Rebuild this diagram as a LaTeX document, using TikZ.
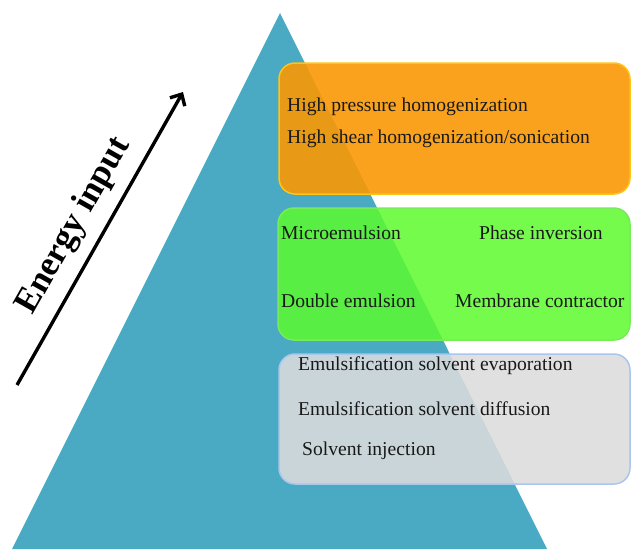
\documentclass[tikz,border=0pt]{standalone}
\usepackage{fontspec}
\setmainfont{Liberation Serif}
\usetikzlibrary{arrows.meta}
\definecolor{teal}{RGB}{74,170,196}
\definecolor{orng}{RGB}{250,152,4}
\definecolor{orngline}{RGB}{255,196,20}
\definecolor{grn}{RGB}{92,250,45}
\definecolor{grnline}{RGB}{120,235,90}
\definecolor{gry}{RGB}{220,220,220}
\definecolor{gryline}{RGB}{170,198,236}
\tikzset{
  box/.style={rounded corners=16pt, line width=1.5pt},
  lbl/.style={anchor=west, inner sep=0pt, font=\fontsize{19.6}{22}\selectfont, text=black!90},
}
\begin{document}
\begin{tikzpicture}[x=1pt,y=-1pt]
\useasboundingbox (0,0) rectangle (632,549);
\fill[teal] (280,13) -- (547,549) -- (12,549) -- cycle;
\draw[box, fill=orng, fill opacity=0.9, draw=orngline] (279,63) rectangle (630,194);
\draw[box, fill=grn, fill opacity=0.85, draw=grnline] (278,208) rectangle (630,340);
\draw[box, fill=gry, fill opacity=0.88, draw=gryline] (279,354) rectangle (630,484);
\node[lbl] (hp) at (287,107) {High pressure homogenization};
\node[lbl] (hs) at (287,139) {High shear homogenization/sonication};
\node[lbl] (me) at (281,233) {Microemulsion};
\node[lbl] (pi) at (479,233) {Phase inversion};
\node[lbl] (de) at (281,301) {Double emulsion};
\node[lbl] (mc) at (455,301) {Membrane contractor};
\node[lbl] (ev) at (298,366) {Emulsification solvent evaporation};
\node[lbl] (df) at (298,409) {Emulsification solvent diffusion};
\node[lbl] (si) at (302,451) {Solvent injection};
\coordinate (a0) at (17,385);
\coordinate (a1) at (183,92);
\draw[line width=3.4pt, -{Straight Barb[length=9pt, width=17pt, line width=3.4pt]}] (a0) -- (a1);
\node[rotate=60.5, font=\bfseries\fontsize{35}{40}\selectfont, inner sep=0pt] (en) at (74,226) {Energy input};
\end{tikzpicture}
\end{document}
